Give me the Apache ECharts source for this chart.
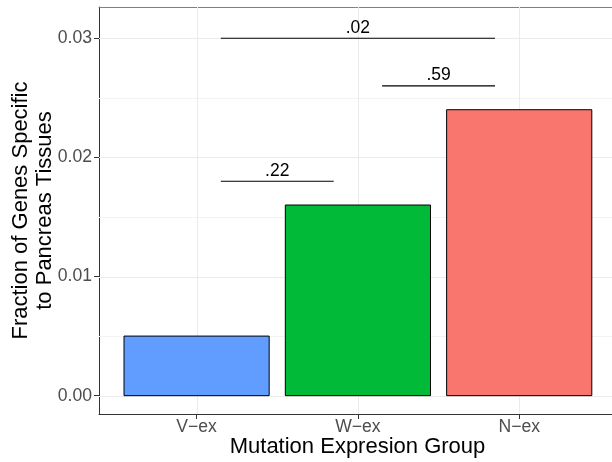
<!DOCTYPE html>
<html>
<head>
<meta charset="utf-8">
<script src="https://cdn.jsdelivr.net/npm/echarts@6/dist/echarts.min.js"></script>
<style>html,body{margin:0;padding:0;background:#fff;}#c{width:612px;height:462px;}</style>
</head>
<body>
<div id="c"></div>
<script>
var categories = ['V\u2212ex', 'W\u2212ex', 'N\u2212ex'];
var fractions = [0.005, 0.016, 0.024];
var barColors = ['#619CFF', '#00BA38', '#F8766D'];
var yTicks = [0, 0.01, 0.02, 0.03];
var yTickLabels = ['0.00', '0.01', '0.02', '0.03'];
var yMinor = [0.005, 0.015, 0.025];
var sigStart = [1.15, 2.15, 1.15];
var sigEnd = [1.85, 2.85, 2.85];
var sigY = [0.018, 0.026, 0.03];
var sigLabels = ['.22', '.59', '.02'];

var FONT = 'Liberation Sans';
var X_MIN = 0.395, X_MAX = 3.6, Y_MIN = -0.00154, Y_MAX = 0.03262;
var chart = echarts.init(document.getElementById('c'), null, {renderer: 'canvas'});

var catPos = categories.map(function (c, i) { return i + 1; });
var barData = fractions.map(function (v, i) { return [catPos[i], v]; });
var sigData = sigLabels.map(function (l, i) { return [sigStart[i], sigEnd[i], sigY[i]]; });

// grid line items: [orientation (0 = horizontal, 1 = vertical), value, major flag]
var gridData = [];
yMinor.forEach(function (v) { gridData.push([0, v, 0]); });
yTicks.forEach(function (v) { gridData.push([0, v, 1]); });
catPos.forEach(function (v) { gridData.push([1, v, 1]); });

chart.setOption({
  animation: false,
  backgroundColor: '#ffffff',
  grid: {left: 99, top: 7, width: 517, height: 407, show: false, containLabel: false, outerBoundsMode: 'none'},
  xAxis: [{
    type: 'value', min: X_MIN, max: X_MAX,
    name: 'Mutation Expresion Group', nameLocation: 'middle', nameGap: 22, nameMoveOverlap: false,
    nameTextStyle: {fontFamily: FONT, fontSize: 22, color: '#000', verticalAlign: 'top'},
    axisLine: {show: true, onZero: false, lineStyle: {color: '#333333', width: 1}},
    axisTick: {show: true, length: 5, customValues: catPos, lineStyle: {color: '#333333'}},
    axisLabel: {customValues: catPos, margin: 4, fontFamily: FONT, fontSize: 17.6, color: '#4D4D4D',
      formatter: function (v) { return categories[Math.round(v) - 1]; }},
    splitLine: {show: false}
  }, {
    type: 'value', min: X_MIN, max: X_MAX, position: 'top',
    axisLine: {show: true, onZero: false, lineStyle: {color: '#7F7F7F', width: 1}},
    axisTick: {show: false}, axisLabel: {show: false}, splitLine: {show: false}
  }],
  yAxis: {
    type: 'value', min: Y_MIN, max: Y_MAX,
    name: 'Fraction of Genes Specific\nto Pancreas Tissues', nameLocation: 'middle', nameGap: 41.5, nameRotate: 90,
    nameMoveOverlap: false,
    nameTextStyle: {fontFamily: FONT, fontSize: 22, color: '#000', lineHeight: 24.5, align: 'center'},
    axisLine: {show: true, onZero: false, lineStyle: {color: '#333333', width: 1}},
    axisTick: {show: true, length: 5, customValues: yTicks, lineStyle: {color: '#333333'}},
    axisLabel: {customValues: yTicks, margin: 7, fontFamily: FONT, fontSize: 17.6, color: '#4D4D4D',
      formatter: function (v) { var i = yTicks.indexOf(v); return i >= 0 ? yTickLabels[i] : v.toFixed(2); }},
    splitLine: {show: false}
  },
  series: [
    {
      type: 'custom', z: 1, silent: true, data: gridData, clip: true,
      encode: {x: 1, y: 1},
      renderItem: function (params, api) {
        var o = api.value(0), v = api.value(1), major = api.value(2);
        var a, b;
        if (o === 0) { a = api.coord([X_MIN, v]); b = api.coord([X_MAX, v]); }
        else { a = api.coord([v, Y_MIN]); b = api.coord([v, Y_MAX]); }
        var x1 = Math.round(a[0]) + (o === 1 ? 0.5 : 0), x2 = Math.round(b[0]) + (o === 1 ? 0.5 : 0);
        var y1 = Math.round(a[1]) + (o === 0 ? 0.5 : 0), y2 = Math.round(b[1]) + (o === 0 ? 0.5 : 0);
        return {type: 'line', shape: {x1: x1, y1: y1, x2: x2, y2: y2},
          style: {stroke: major ? '#EBEBEB' : '#F3F3F3', lineWidth: 1}};
      }
    },
    {
      type: 'custom', z: 3, data: barData,
      encode: {x: 0, y: 1},
      renderItem: function (params, api) {
        var x = api.value(0), y = api.value(1);
        var p1 = api.coord([x - 0.45, y]);
        var p2 = api.coord([x + 0.45, 0]);
        return {type: 'rect', shape: {x: p1[0], y: p1[1], width: p2[0] - p1[0], height: p2[1] - p1[1]},
          style: {fill: barColors[params.dataIndex], stroke: '#000', lineWidth: 1}};
      }
    },
    {
      type: 'custom', z: 4, data: sigData,
      encode: {x: [0, 1], y: 2},
      renderItem: function (params, api) {
        var a = api.coord([api.value(0), api.value(2)]);
        var b = api.coord([api.value(1), api.value(2)]);
        return {type: 'group', children: [
          {type: 'line', shape: {x1: a[0], y1: a[1], x2: b[0], y2: b[1]}, style: {stroke: '#000', lineWidth: 1.1}},
          {type: 'text', x: (a[0] + b[0]) / 2, y: a[1] - 1.5,
            style: {text: sigLabels[params.dataIndex], fontFamily: FONT, fontSize: 17.5, fill: '#000', align: 'center', verticalAlign: 'bottom'}}
        ]};
      }
    }
  ]
});
</script>
</body>
</html>
